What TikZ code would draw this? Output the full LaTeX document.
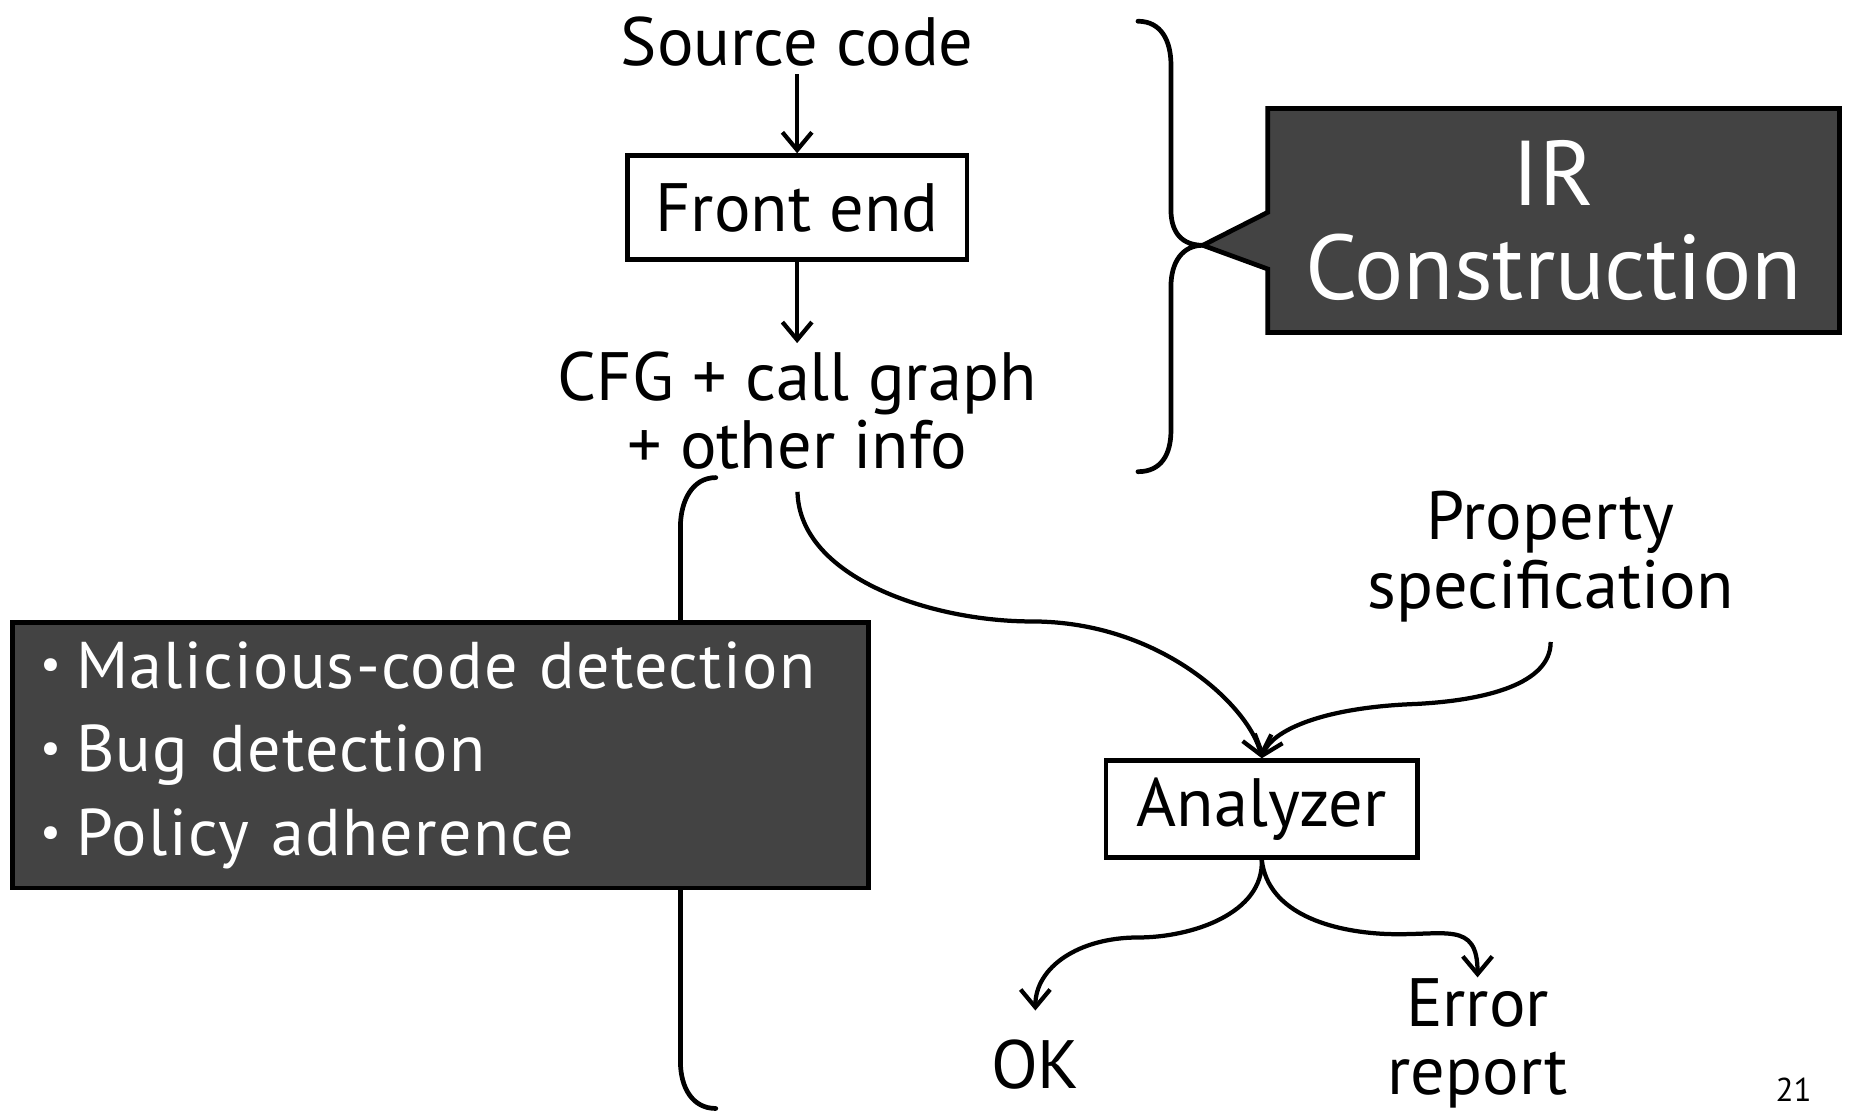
\documentclass[tikz,border=0pt]{standalone}
\usepackage{fontspec}
\setmainfont{PT Sans}
\usetikzlibrary{arrows.meta,shapes.callouts}
\definecolor{slate}{HTML}{434343}
\newcommand{\usebullet}{\makebox[15pt][l]{\raisebox{0.25ex}{\scalebox{0.7}{\textbullet}}}}
\begin{document}
\begin{tikzpicture}[x=0.5pt,y=-0.5pt]
	\tikzstyle{lbl} = [align=center, font=\fontsize{29}{29}\selectfont]
	\tikzstyle{stage} = [lbl, draw, line width=2pt, inner sep=0pt]
	\tikzstyle{note} = [draw, line width=2pt, fill=slate, text=white]
	\tikzstyle{flow} = [line width=1.8pt, -{Straight Barb[length=7.5pt,width=12.5pt]}]
	\tikzstyle{curly} = [line width=2pt, line cap=round]
	\useasboundingbox (0,0) rectangle (1568,944);
	\node[lbl] (src) at (676,35) {Source code};
	\node[stage, minimum width=144pt, minimum height=44pt] (front) at (676,176) {Front end};
	\node[lbl] (cfg) at (676,348) {CFG + call graph\\+ other info};
	\node[lbl] (prop) at (1315,472) {Property\\specification};
	\node[stage, minimum width=132pt, minimum height=41pt] (ana) at (1070,686) {Analyzer};
	\node[lbl] (ok) at (878,903) {OK};
	\node[lbl] (err) at (1253,885) {Error\\report};
	\node[font=\fontsize{14}{14}\selectfont] (pg) at (1521,924) {21};
	\draw[flow] (src) -- (front);
	\draw[flow] (front) -- (cfg);
	\draw[flow, shorten <=6pt] (cfg.south) .. controls (678,490) and (790,527) .. (875,527)
		.. controls (985,527) and (1060,600) .. (ana.north);
	\draw[flow, shorten <=5pt] (prop.south) .. controls (1315,580) and (1260,594) .. (1200,597)
		.. controls (1120,600) and (1078,620) .. (ana.north);
	\draw[flow, shorten >=9pt] (ana.south) .. controls (1072,775) and (1010,795) .. (965,795)
		.. controls (915,795) and (878,820) .. (ok.north);
	\draw[flow, shorten >=-3pt] (ana.south) .. controls (1075,775) and (1130,790) .. (1175,792)
		.. controls (1225,794) and (1253,780) .. (err.north);
	\coordinate (irtip) at (1020,208);
	\draw[curly] (965,18) .. controls (985,18) and (993,35) .. (993,55) -- (993,178)
		.. controls (993,198) and (1003,208) .. (irtip)
		.. controls (1003,208) and (993,222) .. (993,243) -- (993,365)
		.. controls (993,385) and (985,400) .. (965,400);
	\node[note, rectangle callout, callout absolute pointer={(irtip)}, callout pointer width=24pt,
		minimum width=242.5pt, minimum height=95pt, align=center,
		font=\fontsize{39}{40}\selectfont] (ir) at (1317.5,187) {IR\\Construction};
	\coordinate (usetip) at (547,672);
	\draw[curly] (607,405) .. controls (587,405) and (577,425) .. (577,447) -- (577,640)
		.. controls (577,660) and (565,672) .. (usetip)
		.. controls (565,672) and (577,684) .. (577,704) -- (577,900)
		.. controls (577,922) and (587,940) .. (607,940);
	\node[note, text width=339pt, inner xsep=12pt, minimum height=112.5pt, align=left,
		font=\fontsize{28}{35.5}\selectfont\addfontfeatures{LetterSpace=2}] (uses) at (373.5,640.5)
		{\usebullet Malicious-code detection\\
		\usebullet Bug detection\\
		\usebullet Policy adherence};
\end{tikzpicture}
\end{document}
